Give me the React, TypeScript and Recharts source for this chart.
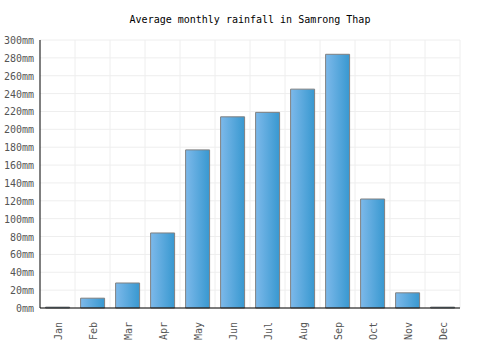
import { BarChart, Bar, XAxis, YAxis, CartesianGrid } from 'recharts';

const MONTHS = ['Jan', 'Feb', 'Mar', 'Apr', 'May', 'Jun', 'Jul', 'Aug', 'Sep', 'Oct', 'Nov', 'Dec'];
const RAINFALL = [1, 11, 28, 84, 177, 214, 219, 245, 284, 122, 17, 1];
const Y_TICKS = [0, 20, 40, 60, 80, 100, 120, 140, 160, 180, 200, 220, 240, 260, 280, 300];

const rows = MONTHS.map((month, i) => ({ month, rain: RAINFALL[i] }));

const FONT = '"DejaVu Sans Mono", monospace';

function MonthTick({ x, y, payload }: { x?: number; y?: number; payload?: { value: string } }) {
  return (
    <text
      x={0}
      y={0}
      transform={`translate(${(x ?? 0) + 4},${(y ?? 0) + 6}) rotate(-90)`}
      textAnchor="end"
      fill="#555"
      fontSize={10}
      fontFamily={FONT}
    >
      {payload?.value}
    </text>
  );
}

function RainTick({ y, payload }: { y?: number; payload?: { value: number } }) {
  return (
    <text x={34} y={(y ?? 0) + 4} textAnchor="end" fill="#555" fontSize={10} fontFamily={FONT}>
      {`${payload?.value}mm`}
    </text>
  );
}

export default function App() {
  return (
    <div style={{ position: 'absolute', left: 0, top: 0, width: 500, height: 350, background: '#fff' }}>
      <div
        style={{
          position: 'absolute',
          top: 14,
          width: 500,
          textAlign: 'center',
          fontFamily: FONT,
          fontSize: 10,
          color: '#000',
        }}
      >
        Average monthly rainfall in Samrong Thap
      </div>
      <BarChart
        width={500}
        height={350}
        data={rows}
        margin={{ top: 40, right: 40, left: 0, bottom: 0 }}
        barCategoryGap="16%"
      >
        <defs>
          <linearGradient id="barFill" x1="0" y1="0" x2="1" y2="0">
            <stop offset="0%" stopColor="#7db9ea" />
            <stop offset="100%" stopColor="#3898d0" />
          </linearGradient>
        </defs>
        <CartesianGrid
          stroke="#eeeeee"
          verticalCoordinatesGenerator={({ offset }: any) =>
            MONTHS.map((_, i) => offset.left + (i + 1) * (offset.width / MONTHS.length))
          }
        />
        <XAxis
          dataKey="month"
          height={42}
          axisLine={{ stroke: '#000', strokeWidth: 1 }}
          tickLine={false}
          interval={0}
          tick={<MonthTick />}
        />
        <YAxis
          width={40}
          domain={[0, 300]}
          ticks={Y_TICKS}
          interval={0}
          axisLine={{ stroke: '#000', strokeWidth: 1 }}
          tickLine={false}
          tick={<RainTick />}
        />
        <Bar dataKey="rain" fill="url(#barFill)" stroke="#808080" strokeWidth={1} isAnimationActive={false} />
      </BarChart>
    </div>
  );
}
